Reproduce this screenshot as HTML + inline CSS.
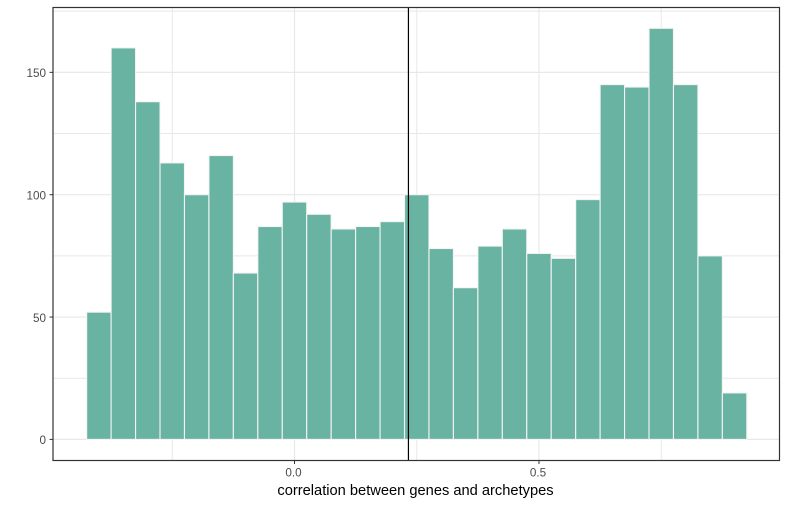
<!DOCTYPE html>
<html>
<head>
<meta charset="utf-8">
<title>Histogram of correlation between genes and archetypes</title>
<style>
html,body{margin:0;padding:0;background:#fff;width:787px;height:505px;overflow:hidden}
svg{display:block}
text{font-family:"Liberation Sans",Arial,sans-serif}
</style>
</head>
<body>
<svg id="chart" width="787" height="505" viewBox="0 0 787 505" xmlns="http://www.w3.org/2000/svg"></svg>
<script>
const binCenters = [-0.40,-0.35,-0.30,-0.25,-0.20,-0.15,-0.10,-0.05,0.00,0.05,0.10,0.15,0.20,0.25,0.30,0.35,0.40,0.45,0.50,0.55,0.60,0.65,0.70,0.75,0.80,0.85,0.90];
const counts = [52,160,138,113,100,116,68,87,97,92,86,87,89,100,78,62,79,86,76,74,98,145,144,168,145,75,19];
const binWidth = 0.05;
const xTickValues = [0.0,0.5];
const xTickLabels = ["0.0","0.5"];
const xMinorValues = [-0.25,0.25,0.75];
const yTickValues = [0,50,100,150];
const yTickLabels = ["0","50","100","150"];
const yMinorValues = [25,75,125,175];
const referenceLine = [0.233];
const xAxisTitle = "correlation between genes and archetypes";

const NS = "http://www.w3.org/2000/svg";
const svg = document.getElementById("chart");
const panel = {left:53,right:779.5,top:7.5,bottom:460.5};
function xScale(v){return 294.5 + v*489;}
function yScale(v){return 439.4 - v*2.447;}
function make(tag,attrs,parent){
  const el = document.createElementNS(NS,tag);
  for(const k in attrs){el.setAttribute(k,attrs[k]);}
  (parent||svg).appendChild(el);
  return el;
}
function group(name){
  const g = document.createElementNS(NS,"g");
  
  
  svg.appendChild(g);
  return g;
}

const bg = make("rect",{x:panel.left,y:panel.top,width:panel.right-panel.left,height:panel.bottom-panel.top,fill:"#fff"});



const gridGroup = group('grid-lines');
xMinorValues.forEach(function(v){
  const l = make("line",{x1:xScale(v),x2:xScale(v),y1:panel.top,y2:panel.bottom,stroke:"#e8e8e8","stroke-width":1},gridGroup);
  
  
});
yMinorValues.forEach(function(v){
  const l = make("line",{x1:panel.left,x2:panel.right,y1:yScale(v),y2:yScale(v),stroke:"#e8e8e8","stroke-width":1},gridGroup);
  
  
});
xTickValues.forEach(function(v){
  const l = make("line",{x1:xScale(v),x2:xScale(v),y1:panel.top,y2:panel.bottom,stroke:"#e8e8e8","stroke-width":1.2},gridGroup);
  
  
});
yTickValues.forEach(function(v){
  const l = make("line",{x1:panel.left,x2:panel.right,y1:yScale(v),y2:yScale(v),stroke:"#e8e8e8","stroke-width":1.2},gridGroup);
  
  
});

const barGroup = group('histogram-bars');
counts.forEach(function(c,i){
  const x0 = xScale(binCenters[i]-binWidth/2);
  const x1 = xScale(binCenters[i]+binWidth/2);
  const r = make("rect",{x:x0,y:yScale(c),width:x1-x0,height:yScale(0)-yScale(c),fill:"#69b3a2",stroke:"#f4f4f4","stroke-width":1.1},barGroup);
  
  
});

referenceLine.forEach(function(v){
  const l = make("line",{x1:xScale(v),x2:xScale(v),y1:panel.top,y2:panel.bottom,stroke:"#000","stroke-width":1.2});
  
  
});

const border = make("rect",{x:panel.left,y:panel.top,width:panel.right-panel.left,height:panel.bottom-panel.top,fill:"none",stroke:"#333","stroke-width":1.2});



const xAxis = group('x-axis');
xTickValues.forEach(function(v,i){
  const t = make("line",{x1:xScale(v),x2:xScale(v),y1:panel.bottom,y2:panel.bottom+3.5,stroke:"#333","stroke-width":1},xAxis);
  
  
  const lab = make("text",{x:xScale(v)-1,y:476.5,"text-anchor":"middle","font-size":"11.7px",fill:"#4d4d4d"},xAxis);
  
  
  lab.textContent = xTickLabels[i];
});

const yAxis = group('y-axis');
yTickValues.forEach(function(v,i){
  const t = make("line",{x1:panel.left-3.5,x2:panel.left,y1:yScale(v),y2:yScale(v),stroke:"#333","stroke-width":1},yAxis);
  
  
  const lab = make("text",{x:46,y:yScale(v)+4.7,"text-anchor":"end","font-size":"11.7px",fill:"#4d4d4d"},yAxis);
  
  
  lab.textContent = yTickLabels[i];
});

const title = make("text",{x:415.5,y:495,"text-anchor":"middle","font-size":"14.67px",fill:"#000"});


title.textContent = xAxisTitle;
</script>
</body>
</html>
